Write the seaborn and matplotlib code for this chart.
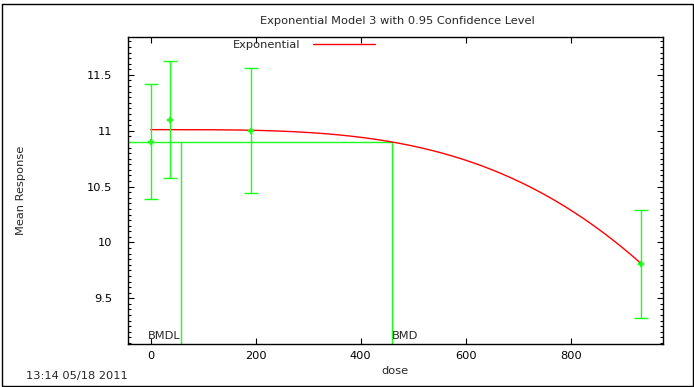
import numpy as np
import pandas as pd
import matplotlib
matplotlib.use("Agg")
import matplotlib.pyplot as plt
from matplotlib.ticker import MultipleLocator
from matplotlib.lines import Line2D
import seaborn as sns

# Observed group summaries
dose = [0, 37, 191, 934]
mean_response = [10.90, 11.10, 11.00, 9.81]
lower_limit = [10.39, 10.58, 10.44, 9.32]
upper_limit = [11.42, 11.62, 11.56, 10.29]

# Fitted exponential model 3: y = a * exp(-(b * dose) ** d)
model_a = 11.01
model_b = 0.000571
model_d = 3.436

# Benchmark dose results
bmd = 459
bmdl = 57.4
bmr_response = 10.90

x_ticks = [0, 200, 400, 600, 800]
y_ticks = [9.5, 10, 10.5, 11, 11.5]
y_tick_labels = ["9.5", "10", "10.5", "11", "11.5"]
x_limits = (-43.8, 975)
y_limits = (9.091, 11.842)

title = "Exponential Model 3 with 0.95 Confidence Level"
stamp = "13:14 05/18 2011"

sns.set_style("ticks")
plt.rcParams["font.family"] = ["DejaVu Sans"]
FS = 8.2
GREEN = "#1aff1a"
RED = "#ff0000"

W, H = 694, 387
fig = plt.figure(figsize=(W / 100, H / 100), dpi=100)
ax_l, ax_r, ax_t, ax_b = 127.7, 662.7, 36.7, 344
ax = fig.add_axes([ax_l / W, 1 - ax_b / H, (ax_r - ax_l) / W, (ax_b - ax_t) / H])

# Model curve evaluated over the observed dose range
grid = np.linspace(0, max(dose), 300)
curve = pd.DataFrame({
    "dose": grid,
    "response": model_a * np.exp(-(model_b * grid) ** model_d),
})
sns.lineplot(data=curve, x="dose", y="response", color=RED, linewidth=1.0,
             ax=ax, legend=False, zorder=3)

# Group means with confidence intervals
obs = pd.DataFrame({"dose": dose, "mean": mean_response,
                    "lo": lower_limit, "hi": upper_limit})
ax.errorbar(obs["dose"], obs["mean"],
            yerr=[obs["mean"] - obs["lo"], obs["hi"] - obs["mean"]],
            fmt="none", ecolor=GREEN, elinewidth=1.0, capsize=5,
            capthick=1.0, zorder=4)
sns.scatterplot(data=obs, x="dose", y="mean", marker="P", s=14,
                color=GREEN, edgecolor=GREEN, linewidth=0.3, ax=ax, zorder=5)

# Benchmark dose reference lines
ax.plot([x_limits[0], bmd], [bmr_response, bmr_response], color=GREEN, lw=1.0, zorder=2)
ax.plot([bmdl, bmdl], [y_limits[0], bmr_response], color=GREEN, lw=1.0, zorder=2)
ax.plot([bmd, bmd], [y_limits[0], bmr_response], color=GREEN, lw=1.0, zorder=2)
ax.text(bmdl, 9.166, "BMDL", ha="right", va="center", fontsize=FS)
ax.text(bmd, 9.166, "BMD", ha="left", va="center", fontsize=FS)

ax.set_xlim(*x_limits)
ax.set_ylim(*y_limits)
ax.set_xticks(x_ticks)
ax.set_xticklabels([str(t) for t in x_ticks])
ax.set_yticks(y_ticks)
ax.set_yticklabels(y_tick_labels)
ax.yaxis.set_minor_locator(MultipleLocator(0.05))
ax.tick_params(axis="both", which="both", direction="in", top=True, right=True,
               labelsize=FS, width=0.8, colors="black")
ax.tick_params(axis="both", which="major", length=4)
ax.tick_params(axis="y", which="minor", length=2)
ax.tick_params(axis="x", which="major", pad=5)
ax.tick_params(axis="y", which="major", pad=11)
for s in ax.spines.values():
    s.set_linewidth(1.0)
    s.set_color("black")
ax.set_xlabel("")
ax.set_ylabel("")

# Legend entry drawn inside the plot area, label before the line sample
fs_px = FS * 100 / 72
ax.legend(handles=[Line2D([0], [0], color=RED, lw=1.0)], labels=["Exponential"],
          loc="center left",
          bbox_to_anchor=((232.7 - ax_l) / (ax_r - ax_l), 1 - (45 - ax_t) / (ax_b - ax_t)),
          frameon=False, fontsize=FS, markerfirst=False,
          handlelength=62 / fs_px, handletextpad=13 / fs_px,
          borderaxespad=0, borderpad=0)

fig.text(397 / W, 1 - 20.7 / H, title, ha="center", va="center", fontsize=FS)
fig.text(395 / W, 1 - 371 / H, "dose", ha="center", va="center", fontsize=FS)
fig.text(21 / W, 1 - 190 / H, "Mean Response", ha="center", va="center",
         rotation=90, fontsize=FS)
fig.text(26 / W, 1 - 376 / H, stamp, ha="left", va="center", fontsize=FS)

# Outer page frame
frame = [(1.5, 4), (692.5, 4), (692.5, 386), (1.5, 386), (1.5, 4)]
fig.add_artist(Line2D([p[0] / W for p in frame], [1 - p[1] / H for p in frame],
                      color="black", lw=1.0, transform=fig.transFigure))

fig.savefig("out.png", dpi=100)
